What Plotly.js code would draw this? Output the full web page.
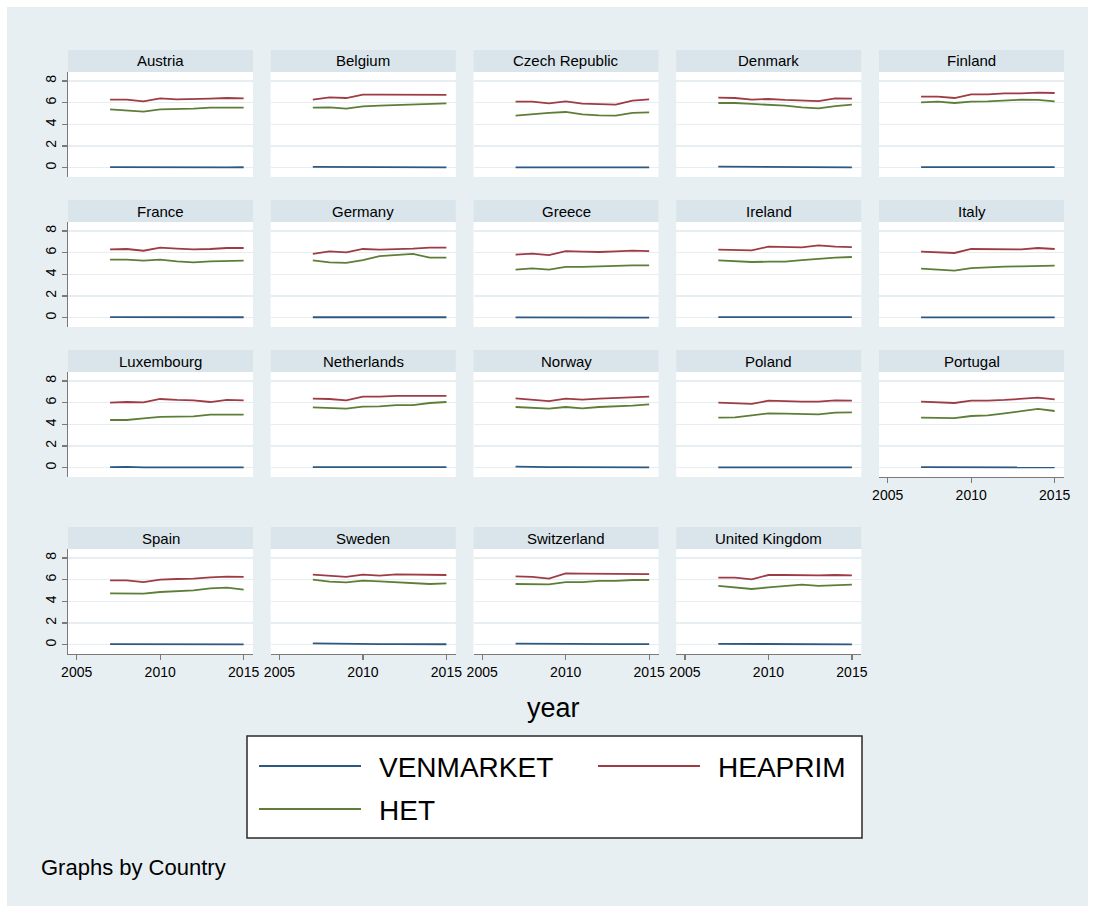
<!DOCTYPE html>
<html>
<head>
<meta charset="utf-8">
<script src="https://cdn.plot.ly/plotly-3.0.1.min.js"></script>
<style>
  html, body { margin: 0; padding: 0; background: #ffffff; }
  #chart { width: 1095px; height: 913px; }
</style>
</head>
<body>
<div id="chart"></div>
<script>
// Panel data: one row per country, values for 2007..2015
const years = [2007, 2008, 2009, 2010, 2011, 2012, 2013, 2014, 2015];

const countries = [
  "Austria", "Belgium", "Czech Republic", "Denmark", "Finland",
  "France", "Germany", "Greece", "Ireland", "Italy",
  "Luxembourg", "Netherlands", "Norway", "Poland", "Portugal",
  "Spain", "Sweden", "Switzerland", "United Kingdom"
];

const seriesNames = ["VENMARKET", "HEAPRIM", "HET"];

const venmarket = [
  [0.05, 0.04, 0.03, 0.03, 0.04, 0.03, 0.03, 0.03, 0.04],
  [0.08, 0.07, 0.08, 0.05, 0.04, 0.04, 0.04, 0.04, 0.03],
  [0.02, 0.02, 0.02, 0.02, 0.02, 0.02, 0.02, 0.02, 0.02],
  [0.09, 0.09, 0.04, 0.03, 0.05, 0.03, 0.03, 0.03, 0.03],
  [0.05, 0.05, 0.05, 0.05, 0.05, 0.05, 0.05, 0.05, 0.05],
  [0.05, 0.05, 0.04, 0.05, 0.04, 0.04, 0.04, 0.04, 0.04],
  [0.04, 0.04, 0.04, 0.04, 0.04, 0.04, 0.04, 0.04, 0.04],
  [0.02, 0.02, 0.02, 0.01, 0.01, 0.01, 0.01, 0.01, 0.01],
  [0.05, 0.05, 0.05, 0.04, 0.05, 0.05, 0.06, 0.06, 0.05],
  [0.02, 0.02, 0.02, 0.02, 0.02, 0.02, 0.02, 0.02, 0.02],
  [0.05, 0.08, 0.02, 0.02, 0.03, 0.03, 0.02, 0.02, 0.02],
  [0.05, 0.05, 0.05, 0.05, 0.05, 0.05, 0.05, 0.05, 0.05],
  [0.10, 0.05, 0.05, 0.05, 0.04, 0.03, 0.03, 0.03, 0.03],
  [0.02, 0.02, 0.02, 0.02, 0.02, 0.02, 0.02, 0.02, 0.02],
  [0.05, 0.05, 0.04, 0.04, 0.03, 0.03, 0.03, 0.03, 0.03],
  [0.05, 0.05, 0.03, 0.03, 0.02, 0.02, 0.02, 0.02, 0.02],
  [0.12, 0.12, 0.08, 0.07, 0.06, 0.05, 0.05, 0.05, 0.04],
  [0.10, 0.08, 0.08, 0.06, 0.06, 0.05, 0.05, 0.05, 0.05],
  [0.08, 0.08, 0.06, 0.05, 0.05, 0.04, 0.03, 0.03, 0.03]
];

const heaprim = [
  [6.28, 6.28, 6.12, 6.40, 6.31, 6.31, 6.37, 6.43, 6.40],
  [6.28, 6.49, 6.43, 6.74, 6.74, 6.74, 6.71, 6.71, 6.71],
  [6.09, 6.09, 5.94, 6.12, 5.91, 5.88, 5.82, 6.18, 6.31],
  [6.46, 6.43, 6.28, 6.34, 6.25, 6.18, 6.15, 6.40, 6.37],
  [6.55, 6.55, 6.43, 6.77, 6.77, 6.86, 6.86, 6.92, 6.89],
  [6.31, 6.34, 6.18, 6.46, 6.37, 6.31, 6.34, 6.43, 6.43],
  [5.88, 6.12, 6.03, 6.34, 6.28, 6.31, 6.37, 6.46, 6.46],
  [5.82, 5.91, 5.78, 6.15, 6.09, 6.06, 6.12, 6.18, 6.15],
  [6.28, 6.28, 6.22, 6.55, 6.52, 6.49, 6.68, 6.55, 6.52],
  [6.09, 6.03, 5.97, 6.34, 6.31, 6.31, 6.31, 6.43, 6.34],
  [6.00, 6.06, 6.03, 6.34, 6.25, 6.22, 6.06, 6.25, 6.22],
  [6.37, 6.34, 6.22, 6.55, 6.55, 6.62, 6.62, 6.65, 6.62],
  [6.40, 6.31, 6.15, 6.37, 6.28, 6.37, 6.43, 6.49, 6.55],
  [6.00, 5.94, 5.88, 6.18, 6.12, 6.09, 6.09, 6.22, 6.18],
  [6.09, 6.06, 5.97, 6.18, 6.18, 6.25, 6.34, 6.46, 6.31],
  [5.94, 5.94, 5.78, 6.00, 6.06, 6.09, 6.22, 6.28, 6.25],
  [6.46, 6.37, 6.25, 6.46, 6.37, 6.49, 6.49, 6.43, 6.43],
  [6.31, 6.25, 6.09, 6.58, 6.55, 6.55, 6.49, 6.52, 6.52],
  [6.18, 6.18, 6.03, 6.43, 6.43, 6.40, 6.40, 6.43, 6.40]
];

const het = [
  [5.38, 5.26, 5.17, 5.38, 5.38, 5.45, 5.54, 5.54, 5.54],
  [5.54, 5.57, 5.45, 5.66, 5.72, 5.78, 5.78, 5.88, 5.94],
  [4.80, 4.95, 5.05, 5.14, 4.92, 4.83, 4.80, 5.05, 5.11],
  [5.97, 5.97, 5.88, 5.82, 5.72, 5.57, 5.48, 5.69, 5.82],
  [6.03, 6.09, 5.97, 6.09, 6.12, 6.22, 6.28, 6.25, 6.12],
  [5.35, 5.35, 5.26, 5.35, 5.20, 5.11, 5.20, 5.23, 5.26],
  [5.29, 5.11, 5.05, 5.32, 5.69, 5.75, 5.88, 5.54, 5.54],
  [4.43, 4.55, 4.43, 4.68, 4.68, 4.74, 4.80, 4.83, 4.83],
  [5.29, 5.20, 5.14, 5.17, 5.17, 5.32, 5.45, 5.54, 5.60],
  [4.52, 4.40, 4.34, 4.58, 4.68, 4.71, 4.74, 4.77, 4.80],
  [4.40, 4.40, 4.55, 4.68, 4.71, 4.74, 4.89, 4.89, 4.89],
  [5.57, 5.51, 5.45, 5.63, 5.66, 5.78, 5.78, 5.97, 6.06],
  [5.60, 5.54, 5.45, 5.60, 5.48, 5.60, 5.66, 5.72, 5.85],
  [4.62, 4.65, 4.83, 5.02, 4.98, 4.95, 4.92, 5.08, 5.11],
  [4.62, 4.58, 4.58, 4.77, 4.83, 5.02, 5.20, 5.42, 5.23],
  [4.74, 4.74, 4.71, 4.86, 4.92, 5.02, 5.20, 5.26, 5.08],
  [6.00, 5.82, 5.75, 5.91, 5.85, 5.78, 5.72, 5.60, 5.66],
  [5.60, 5.57, 5.57, 5.78, 5.78, 5.88, 5.88, 5.97, 5.97],
  [5.42, 5.26, 5.14, 5.29, 5.42, 5.54, 5.42, 5.48, 5.54]
];

const xTicks = [2005, 2010, 2015];
const yTicks = [0, 2, 4, 6, 8];

// ---- styling ----
const W = 1095, H = 913;
const FONT = "Liberation Sans, Arial, Helvetica, sans-serif";
const seriesColors = ["#2c5882", "#9e3b44", "#5e7e38"];
const outerBg = "#e8eff2";
const stripBg = "#d9e5eb";
const gridCol = "#e6eef1";
const axisCol = "#7a7a7a";

const fx = p => p / W;
const fy = p => 1 - p / H;

const nCols = 5;
const colLeft = 68, colStep = 202.75, panelW = 185;
const stripTops = [50, 200, 350, 527];
const stripH = 22, plotH = 105;

const traces = [];
const layout = {
  width: W, height: H,
  margin: { l: 0, r: 0, t: 0, b: 0 },
  paper_bgcolor: "#ffffff",
  plot_bgcolor: "rgba(0,0,0,0)",
  showlegend: false,
  font: { family: FONT, color: "#000000" },
  shapes: [],
  annotations: []
};

// outer graph region
layout.shapes.push({
  type: "rect", xref: "paper", yref: "paper", layer: "below",
  x0: fx(7), x1: fx(1088), y0: fy(7), y1: fy(906),
  fillcolor: outerBg, line: { width: 0 }
});

countries.forEach((name, i) => {
  const row = Math.floor(i / nCols), col = i % nCols;
  const x0 = colLeft + col * colStep, x1 = x0 + panelW;
  const sTop = stripTops[row], pTop = sTop + stripH, pBot = pTop + plotH;
  const id = i === 0 ? "" : String(i + 1);
  const xa = "xaxis" + id, ya = "yaxis" + id;
  const showX = row === 3 || (row === 2 && col === 4);
  const showY = col === 0;

  layout[xa] = {
    domain: [fx(x0), fx(x1)],
    anchor: "y" + id,
    range: [2004.48, 2015.56],
    tickvals: xTicks,
    ticktext: xTicks.map(String),
    showticklabels: showX,
    ticks: showX ? "outside" : "",
    ticklen: 5, tickwidth: 1.2, tickcolor: axisCol,
    showline: showX, linecolor: axisCol, linewidth: 1.4,
    showgrid: false, zeroline: false, fixedrange: true,
    tickfont: { family: FONT, size: 14, color: "#000" }
  };
  layout[ya] = {
    domain: [fy(pBot), fy(pTop)],
    anchor: "x" + id,
    range: [-0.86, 8.83],
    tickvals: yTicks,
    showticklabels: showY,
    tickangle: -90,
    ticks: showY ? "outside" : "",
    ticklen: 5, tickwidth: 1.2, tickcolor: axisCol,
    showline: showY, linecolor: axisCol, linewidth: 1.4,
    showgrid: true, gridcolor: gridCol, gridwidth: 1.3,
    zeroline: false, fixedrange: true,
    tickfont: { family: FONT, size: 14, color: "#000" }
  };

  // white plot region and title strip
  layout.shapes.push({
    type: "rect", xref: "paper", yref: "paper", layer: "below",
    x0: fx(x0), x1: fx(x1), y0: fy(pBot), y1: fy(pTop),
    fillcolor: "#ffffff", line: { width: 0 }
  });
  layout.shapes.push({
    type: "rect", xref: "paper", yref: "paper", layer: "below",
    x0: fx(x0), x1: fx(x1), y0: fy(pTop), y1: fy(sTop),
    fillcolor: stripBg, line: { width: 0 }
  });
  layout.annotations.push({
    text: name, xref: "paper", yref: "paper",
    x: fx((x0 + x1) / 2), y: fy(sTop + stripH / 2),
    xanchor: "center", yanchor: "middle", showarrow: false,
    font: { family: FONT, size: 15, color: "#000" }
  });

  [venmarket, heaprim, het].forEach((data, s) => {
    traces.push({
      type: "scatter", mode: "lines",
      x: years, y: data[i],
      xaxis: "x" + id, yaxis: "y" + id,
      name: seriesNames[s],
      line: { color: seriesColors[s], width: 1.8 },
      hoverinfo: "skip"
    });
  });
});

// shared x-axis title
layout.annotations.push({
  text: "year", xref: "paper", yref: "paper",
  x: fx(553), y: fy(708), xanchor: "center", yanchor: "middle",
  showarrow: false, font: { family: FONT, size: 27, color: "#000" }
});

// legend box
layout.shapes.push({
  type: "rect", xref: "paper", yref: "paper", layer: "below",
  x0: fx(247), x1: fx(862), y0: fy(838), y1: fy(736),
  fillcolor: "#ffffff", line: { color: "#2a2a2a", width: 1.5 }
});
const legendSlots = [
  { lx: 259, ty: 767 },   // VENMARKET
  { lx: 598, ty: 767 },   // HEAPRIM
  { lx: 259, ty: 810 }    // HET
];
seriesNames.forEach((nm, s) => {
  const slot = legendSlots[s];
  layout.shapes.push({
    type: "line", xref: "paper", yref: "paper", layer: "above",
    x0: fx(slot.lx), x1: fx(slot.lx + 102), y0: fy(slot.ty - 1), y1: fy(slot.ty - 1),
    line: { color: seriesColors[s], width: 2.2 }
  });
  layout.annotations.push({
    text: nm, xref: "paper", yref: "paper",
    x: fx(slot.lx + 118), y: fy(slot.ty), xanchor: "left", yanchor: "middle",
    showarrow: false, font: { family: FONT, size: 28, color: "#000" }
  });
});

// note
layout.annotations.push({
  text: "Graphs by Country", xref: "paper", yref: "paper",
  x: fx(39), y: fy(867), xanchor: "left", yanchor: "middle",
  showarrow: false, font: { family: FONT, size: 22, color: "#000" }
});

Plotly.newPlot("chart", traces, layout, { staticPlot: true, displayModeBar: false });
</script>
</body>
</html>
